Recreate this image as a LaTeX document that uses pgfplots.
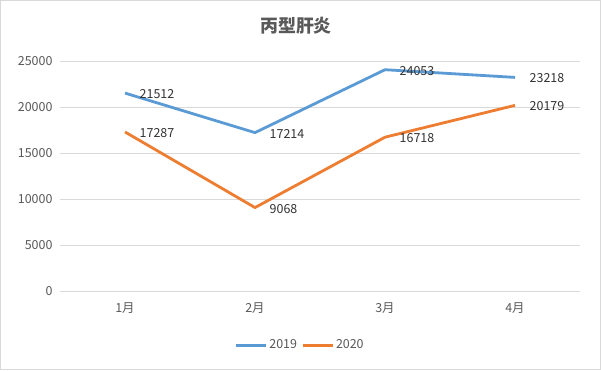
\documentclass[border=0pt]{standalone}
\usepackage{fontspec}
\setmainfont{Noto Sans CJK SC}
\usepackage{pgfplots}
\pgfplotsset{compat=1.18}
\definecolor{sblue}{HTML}{5B9BD5}
\definecolor{sorange}{HTML}{ED7D31}
\definecolor{gridc}{HTML}{D9D9D9}
\definecolor{txt}{HTML}{595959}
\definecolor{bord}{HTML}{D9D9D9}
\begin{document}
\begin{tikzpicture}[x=1bp,y=1bp]
\draw[bord, line width=1bp, fill=white] (0.5,0.5) rectangle (600.5,369.5);
\node[font=\fontsize{18}{21}\selectfont\bfseries, text=txt] at (296,344) {丙型肝炎};
\begin{axis}[
  at={(60bp,79bp)}, anchor=south west,
  scale only axis, width=520bp, height=230bp,
  xmin=-0.5, xmax=3.5, ymin=0, ymax=25000,
  xtick={0,1,2,3}, xticklabels={1月,2月,3月,4月},
  ytick={0,5000,10000,15000,20000,25000},
  scaled ticks=false,
  ymajorgrids, grid style={gridc, line width=0.8bp},
  axis line style={draw=none},
  axis x line*=bottom,
  axis y line*=left,
  major tick length=0pt,
  tick label style={font=\fontsize{12.5}{14}\selectfont, text=txt},
  yticklabel style={xshift=-4bp},
  xticklabel style={yshift=-8bp},
  /pgf/number format/.cd, assume math mode=true, 1000 sep={}, fixed,
  /pgfplots/.cd,
  nodes near coords,
  every node near coord/.append style={font=\fontsize{12.5}{14}\selectfont, text=black!80, anchor=west, xshift=10bp, yshift=-1bp},
  legend style={at={(240bp,-54bp)}, anchor=center, draw=none, legend columns=2,
    font=\fontsize{12.5}{14}\selectfont, text=txt, fill=none,
    /tikz/every even column/.append style={column sep=2bp}},
  legend image code/.code={\draw[#1, line width=3bp] (0bp,0bp) -- (30bp,0bp);},
  clip=false,
]
\addplot[sblue, line width=2.8bp, line join=round] coordinates {(0,21512) (1,17214) (2,24053) (3,23218)};
\addlegendentry{2019}
\addplot[sorange, line width=2.8bp, line join=round] coordinates {(0,17287) (1,9068) (2,16718) (3,20179)};
\addlegendentry{2020}
\draw[gridc, line width=0.8bp] (axis cs:-0.5,0) -- (axis cs:3.5,0);
\end{axis}
\end{tikzpicture}
\end{document}
